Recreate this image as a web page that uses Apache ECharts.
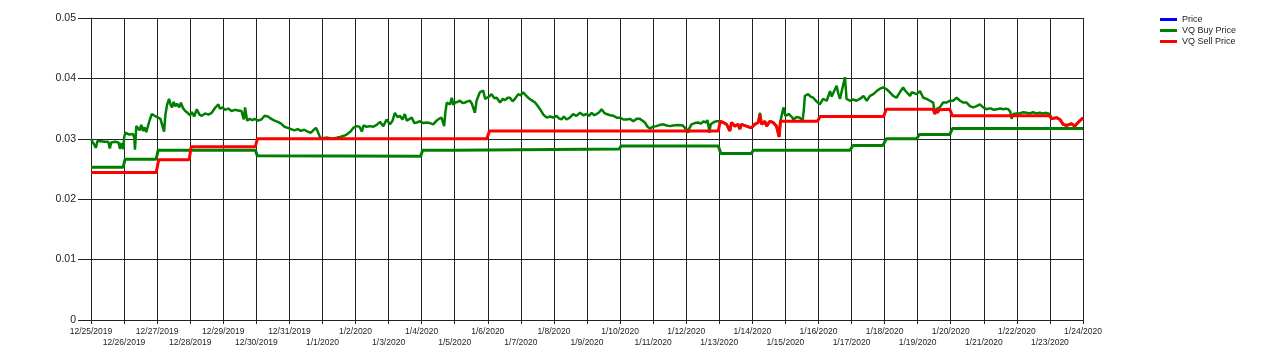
<!DOCTYPE html>
<html>
<head>
<meta charset="utf-8">
<script src="https://cdn.jsdelivr.net/npm/echarts@6/dist/echarts.min.js"></script>
<style>html,body{margin:0;padding:0;background:#fff;}#c{width:1280px;height:363px;}</style>
</head>
<body>
<div id="c"></div>
<script>
const dateLabels = ['12/25/2019','12/26/2019','12/27/2019','12/28/2019','12/29/2019','12/30/2019','12/31/2019',
  '1/1/2020','1/2/2020','1/3/2020','1/4/2020','1/5/2020','1/6/2020','1/7/2020','1/8/2020','1/9/2020','1/10/2020',
  '1/11/2020','1/12/2020','1/13/2020','1/14/2020','1/15/2020','1/16/2020','1/17/2020','1/18/2020','1/19/2020',
  '1/20/2020','1/21/2020','1/22/2020','1/23/2020','1/24/2020'];
const yLabels = ['0','0.01','0.02','0.03','0.04','0.05'];
const seriesNames = ['Price','VQ Buy Price','VQ Sell Price'];

// [day offset from 12/25/2019, value]
const priceData = [
[0,0.0300],[0.05,0.0295],[0.1,0.0296],[0.15,0.0285],[0.19,0.0296],[0.25,0.0294],[0.3,0.0296],[0.36,0.0293],[0.42,0.0295],[0.47,0.0293],[0.52,0.0295],[0.57,0.0284],[0.61,0.0294],[0.67,0.0293],[0.73,0.0295],[0.78,0.0292],[0.83,0.0294],[0.88,0.0283],[0.92,0.0293],[0.96,0.0291],[0.98,0.0283],
[1.0,0.0302],[1.04,0.0310],[1.1,0.0311],[1.16,0.0307],[1.22,0.0305],[1.27,0.0308],[1.31,0.0302],[1.33,0.0282],[1.37,0.0321],[1.42,0.0318],[1.47,0.0314],[1.52,0.0323],[1.57,0.0313],[1.62,0.0319],[1.67,0.0311],[1.72,0.0314],[1.78,0.0332],[1.84,0.0341],[1.9,0.0339],[1.96,0.0337],
[2.03,0.0335],[2.1,0.0333],[2.16,0.0330],[2.21,0.0312],[2.25,0.0340],[2.3,0.0356],[2.36,0.0366],[2.41,0.0356],[2.45,0.0352],[2.5,0.0361],[2.55,0.0354],[2.6,0.0358],[2.67,0.0352],[2.72,0.0360],[2.78,0.0351],[2.85,0.0346],[2.92,0.0343],
[3.0,0.0339],[3.05,0.0344],[3.12,0.0337],[3.2,0.0349],[3.28,0.0340],[3.35,0.0338],[3.45,0.0342],[3.55,0.0340],[3.65,0.0343],[3.75,0.0351],[3.85,0.0357],[3.9,0.0350],[3.98,0.0352],
[4.05,0.0348],[4.15,0.0350],[4.25,0.0346],[4.35,0.0348],[4.45,0.0347],[4.55,0.0346],[4.62,0.0332],[4.66,0.0352],[4.72,0.0330],[4.8,0.0333],[4.88,0.0331],[4.95,0.0333],
[5.05,0.0330],[5.15,0.0332],[5.25,0.0338],[5.35,0.0337],[5.45,0.0333],[5.55,0.0330],[5.65,0.0328],[5.75,0.0325],[5.85,0.0320],[5.95,0.0318],
[6.05,0.0316],[6.15,0.0314],[6.25,0.0316],[6.35,0.0313],[6.45,0.0315],[6.55,0.0312],[6.65,0.0310],[6.72,0.0314],[6.8,0.0318],[6.85,0.0313],[6.93,0.0302],
[7.0,0.0301],[7.15,0.0302],[7.3,0.0300],[7.45,0.0302],[7.53,0.0303],[7.65,0.0305],[7.73,0.0307],[7.85,0.0312],[7.93,0.0318],
[8.03,0.0321],[8.12,0.0320],[8.19,0.0312],[8.24,0.0322],[8.34,0.0320],[8.44,0.0321],[8.54,0.0320],[8.64,0.0323],[8.74,0.0328],[8.84,0.0321],[8.94,0.0332],
[9.04,0.0324],[9.12,0.0330],[9.19,0.0343],[9.27,0.0336],[9.34,0.0338],[9.42,0.0332],[9.49,0.0341],[9.55,0.0330],[9.6,0.0329],[9.7,0.0335],[9.78,0.0326],[9.85,0.0327],[9.95,0.0329],
[10.05,0.0326],[10.15,0.0327],[10.25,0.0326],[10.35,0.0324],[10.45,0.0330],[10.52,0.0333],[10.6,0.0335],[10.68,0.0321],[10.72,0.0345],[10.76,0.0360],[10.86,0.0357],[10.91,0.0368],[10.96,0.0356],
[11.01,0.0360],[11.08,0.0361],[11.16,0.0363],[11.24,0.0359],[11.31,0.0360],[11.38,0.0362],[11.46,0.0363],[11.52,0.0358],[11.58,0.0357],[11.61,0.0343],[11.66,0.0363],[11.76,0.0377],[11.86,0.0380],[11.92,0.0366],[11.96,0.0363],
[12.04,0.0370],[12.11,0.0374],[12.2,0.0367],[12.27,0.0368],[12.37,0.0360],[12.45,0.0366],[12.52,0.0364],[12.6,0.0368],[12.67,0.0368],[12.75,0.0362],[12.82,0.0366],[12.92,0.0374],
[13.0,0.0372],[13.07,0.0377],[13.15,0.0372],[13.22,0.0368],[13.32,0.0364],[13.43,0.0360],[13.5,0.0355],[13.58,0.0349],[13.68,0.0340],[13.78,0.0335],[13.88,0.0337],[13.98,0.0335],
[14.08,0.0338],[14.15,0.0334],[14.23,0.0332],[14.3,0.0337],[14.38,0.0332],[14.48,0.0335],[14.58,0.0341],[14.68,0.0338],[14.79,0.0343],[14.89,0.0339],[14.99,0.0341],
[15.07,0.0338],[15.14,0.0343],[15.22,0.0339],[15.29,0.0341],[15.37,0.0344],[15.44,0.0349],[15.52,0.0343],[15.59,0.0341],[15.7,0.0339],[15.8,0.0338],[15.9,0.0335],
[16.0,0.0335],[16.1,0.0332],[16.2,0.0332],[16.3,0.0333],[16.4,0.0329],[16.5,0.0333],[16.6,0.0333],[16.68,0.0330],[16.75,0.0327],[16.83,0.0320],[16.9,0.0317],
[17.0,0.0320],[17.1,0.0321],[17.2,0.0323],[17.31,0.0324],[17.41,0.0322],[17.51,0.0321],[17.6,0.0322],[17.66,0.0321],[17.75,0.0323],[17.81,0.0324],[17.9,0.0322],[17.96,0.0318],
[18.03,0.0315],[18.06,0.0310],[18.1,0.0318],[18.16,0.0324],[18.26,0.0326],[18.36,0.0327],[18.45,0.0325],[18.52,0.0329],[18.6,0.0327],[18.64,0.0331],[18.68,0.0320],[18.7,0.0310],[18.74,0.0324],[18.77,0.0327],[18.85,0.0328],[18.92,0.0329],
[19.03,0.0329],[19.12,0.0327],[19.22,0.0324],[19.32,0.0313],[19.37,0.0327],[19.47,0.0321],[19.57,0.0324],[19.62,0.0316],[19.67,0.0324],[19.82,0.0321],[19.97,0.0318],
[20.07,0.0324],[20.18,0.0327],[20.23,0.0343],[20.28,0.0324],[20.38,0.0329],[20.43,0.0321],[20.53,0.0329],[20.63,0.0327],[20.73,0.0321],[20.81,0.0303],[20.85,0.0329],
[20.94,0.0352],[21.0,0.0338],[21.04,0.0335],[21.1,0.0341],[21.14,0.0343],[21.2,0.0336],[21.24,0.0332],[21.34,0.0336],[21.44,0.0335],[21.52,0.0329],[21.56,0.0350],[21.59,0.0371],[21.69,0.0374],[21.76,0.0370],[21.84,0.0368],[21.94,0.0362],
[22.04,0.0357],[22.14,0.0366],[22.2,0.0364],[22.25,0.0363],[22.35,0.0379],[22.4,0.0370],[22.45,0.0371],[22.55,0.0388],[22.6,0.0375],[22.65,0.0366],[22.7,0.0363],[22.8,0.0402],[22.85,0.0366],[22.95,0.0363],
[23.05,0.0365],[23.15,0.0363],[23.25,0.0366],[23.36,0.0371],[23.46,0.0363],[23.56,0.0371],[23.66,0.0374],[23.76,0.0379],[23.86,0.0383],[23.96,0.0385],
[24.06,0.0382],[24.16,0.0377],[24.26,0.0371],[24.36,0.0368],[24.46,0.0377],[24.56,0.0385],[24.62,0.0380],[24.67,0.0377],[24.77,0.0371],[24.82,0.0377],[24.87,0.0379],[24.97,0.0374],
[25.07,0.0379],[25.17,0.0368],[25.27,0.0366],[25.37,0.0363],[25.47,0.0360],[25.52,0.0341],[25.57,0.0349],[25.67,0.0352],[25.77,0.0360],[25.87,0.0360],[25.97,0.0363],
[26.07,0.0363],[26.18,0.0368],[26.28,0.0363],[26.38,0.0360],[26.48,0.0360],[26.58,0.0354],[26.68,0.0352],[26.78,0.0354],[26.88,0.0357],[26.98,0.0352],
[27.08,0.0349],[27.15,0.0350],[27.23,0.0350],[27.3,0.0348],[27.39,0.0349],[27.5,0.0350],[27.59,0.0349],[27.67,0.0350],[27.74,0.0349],[27.8,0.0345],[27.84,0.0333],[27.89,0.0341],
[27.99,0.0342],[28.09,0.0342],[28.19,0.0344],[28.29,0.0343],[28.39,0.0342],[28.49,0.0344],[28.59,0.0342],[28.69,0.0343],[28.79,0.0342],[28.89,0.0343],[28.99,0.0341],
[29.05,0.0334],[29.2,0.0335],[29.3,0.0332],[29.4,0.0324],[29.5,0.0322],[29.55,0.0321],[29.65,0.0325],[29.75,0.0321],[29.85,0.0327],[29.95,0.0332],[30.0,0.0335]
];

const buyData = [
[0,0.0253],[0.97,0.0253],[1.03,0.0266],[1.97,0.0266],[2.03,0.0281],[4.97,0.0281],[5.03,0.0272],[9.97,0.0271],
[10.03,0.0281],[10.97,0.0281],[11.03,0.0283],[15.97,0.0283],[16.03,0.0288],[18.97,0.0288],[19.05,0.02755],[19.97,0.02755],
[20.03,0.0281],[22.95,0.0281],[23.05,0.0289],[23.95,0.0289],[24.05,0.0300],[24.97,0.0300],[25.05,0.0307],[25.97,0.0307],
[26.05,0.0317],[30,0.0317]
];

const sellData = [
[0,0.0244],[1.97,0.0244],[2.05,0.02655],[2.97,0.02655],[3.03,0.0287],[4.97,0.0287],[5.03,0.0300],[11.97,0.0300],
[12.05,0.0313],[18.97,0.0313],
[19.03,0.0329],[19.12,0.0327],[19.22,0.0324],[19.32,0.0313],[19.37,0.0327],[19.47,0.0321],[19.57,0.0324],[19.62,0.0316],[19.67,0.0324],[19.82,0.0321],[19.97,0.0318],
[20.07,0.0324],[20.18,0.0327],[20.23,0.0340],[20.28,0.0324],[20.38,0.0329],[20.43,0.0321],[20.53,0.0329],[20.63,0.0327],[20.73,0.0321],[20.81,0.0303],[20.85,0.0329],[20.94,0.0329],
[21.97,0.0329],[22.05,0.0337],[23.97,0.0337],[24.05,0.0349],[25.47,0.0349],[25.52,0.0341],[25.55,0.0349],[25.6,0.0343],[25.65,0.0348],[25.97,0.0349],
[26.05,0.0338],[28.99,0.0338],
[29.05,0.0333],[29.2,0.0335],[29.3,0.0332],[29.4,0.0324],[29.5,0.0322],[29.55,0.0321],[29.65,0.0325],[29.75,0.0321],[29.85,0.0327],[29.95,0.0332],[30,0.0335]
];

const FONT = 'Liberation Sans, Arial, sans-serif';
const AX = '#222';
const labelBase = { fontFamily: FONT, fontSize: 8.5, color: AX, showMinLabel: true, showMaxLabel: true, hideOverlap: false };
const chart = echarts.init(document.getElementById('c'));
chart.setOption({
  animation: false,
  backgroundColor: '#fff',
  grid: { left: 91, right: 197, top: 18, bottom: 43, containLabel: false },
  legend: {
    orient: 'vertical', left: 1155, top: 9, itemWidth: 17, itemHeight: 3, itemGap: 0,
    icon: 'rect',
    textStyle: { fontFamily: FONT, fontSize: 9, color: AX, lineHeight: 11, padding: 0 },
    data: [
      { name: seriesNames[0], itemStyle: { color: '#0000ff' } },
      { name: seriesNames[1], itemStyle: { color: '#008000' } },
      { name: seriesNames[2], itemStyle: { color: '#ff0000' } }
    ]
  },
  xAxis: [{
    type: 'value', min: 0, max: 30, interval: 1, position: 'bottom',
    axisLine: { show: true, lineStyle: { color: AX, width: 1 } },
    axisTick: { show: true, length: 4, lineStyle: { color: AX } },
    splitLine: { show: true, lineStyle: { color: AX, width: 1 } },
    axisLabel: Object.assign({}, labelBase, { margin: 7,
      formatter: function (v) { const i = Math.round(v); return i % 2 ? '' : dateLabels[i]; } })
  }, {
    type: 'value', min: 0, max: 30, interval: 1, position: 'bottom', offset: 0,
    axisLine: { show: false }, axisTick: { show: false }, splitLine: { show: false },
    axisLabel: Object.assign({}, labelBase, { margin: 18,
      formatter: function (v) { const i = Math.round(v); return i % 2 ? dateLabels[i] : ''; } })
  }],
  yAxis: {
    type: 'value', min: 0, max: 0.05, interval: 0.01,
    axisLine: { show: true, lineStyle: { color: AX, width: 1 } },
    axisTick: { show: true, length: 13, lineStyle: { color: AX } },
    splitLine: { show: true, lineStyle: { color: AX, width: 1 } },
    axisLabel: {
      fontFamily: FONT, fontSize: 10.5, color: AX, margin: 15,
      formatter: function (v) { return yLabels[Math.round(v * 100)]; }
    }
  },
  series: [
    { name: seriesNames[0], type: 'line', data: priceData, showSymbol: false, symbol: 'none', xAxisIndex: 0,
      itemStyle: { color: '#0000ff' }, lineStyle: { color: '#008000', width: 2.5 }, z: 2 },
    { name: seriesNames[1], type: 'line', data: buyData, showSymbol: false, symbol: 'none', xAxisIndex: 0,
      itemStyle: { color: '#008000' }, lineStyle: { color: '#008000', width: 3 }, z: 3 },
    { name: seriesNames[2], type: 'line', data: sellData, showSymbol: false, symbol: 'none', xAxisIndex: 0,
      itemStyle: { color: '#ff0000' }, lineStyle: { color: '#ff0000', width: 3 }, z: 4 }
  ]
});
</script>
</body>
</html>
